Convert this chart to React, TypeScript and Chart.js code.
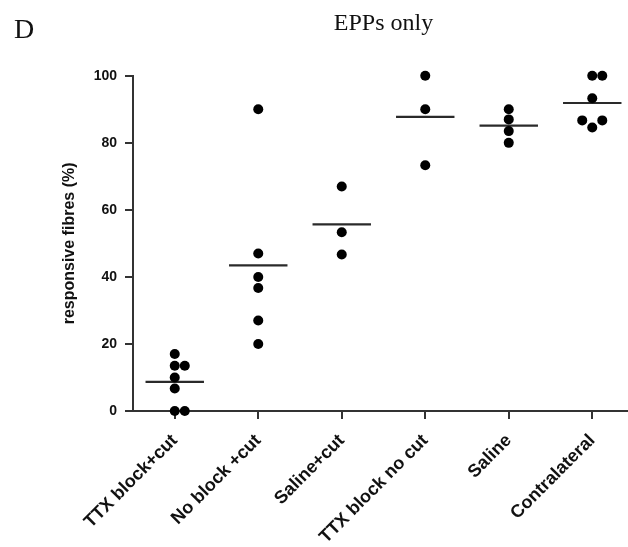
import React, { useEffect, useRef } from "react";
import { Chart, registerables } from "chart.js";

Chart.register(...registerables);

const CATEGORIES = [
  "TTX block+cut",
  "No block +cut",
  "Saline+cut",
  "TTX block no cut",
  "Saline",
  "Contralateral",
];

const TTX_BLOCK_CUT = [17, 13.5, 13.5, 10, 6.7, 0, 0];
const NO_BLOCK_CUT = [90, 47, 40, 36.7, 27, 20];
const SALINE_CUT = [67, 53.3, 46.7];
const TTX_BLOCK_NO_CUT = [100, 90, 73.3];
const SALINE = [90, 87, 83.5, 80];
const CONTRALATERAL = [100, 100, 93.3, 86.7, 86.7, 84.6];

const GROUPS = [TTX_BLOCK_CUT, NO_BLOCK_CUT, SALINE_CUT, TTX_BLOCK_NO_CUT, SALINE, CONTRALATERAL];

const Y_TICKS = [0, 20, 40, 60, 80, 100];
const TITLE = "EPPs only";
const PANEL_LABEL = "D";
const Y_TITLE = "responsive fibres (%)";

const SANS = "'Liberation Sans', Arial, sans-serif";
const SERIF = "'Liberation Serif', 'Times New Roman', serif";

// simple beeswarm: points that would overlap are spread sideways
function swarm(values: number[], index: number) {
  const DX = 0.12; // dot width in category units
  const DY = 3.0; // dot height in value units
  const placed: { x: number; y: number }[] = [];
  const sorted = [...values].sort((a, b) => a - b);
  for (const v of sorted) {
    for (let k = 0; k < 20; k++) {
      const step = k === 0 ? 0 : k % 2 === 1 ? Math.ceil(k / 2) : -Math.ceil(k / 2);
      const x = index + step * DX;
      const hit = placed.some((p) => ((p.x - x) / DX) ** 2 + ((p.y - v) / DY) ** 2 < 0.999);
      if (!hit) {
        placed.push({ x, y: v });
        break;
      }
    }
  }
  return placed;
}

const mean = (a: number[]) => a.reduce((s, v) => s + v, 0) / a.length;

const panelLabelPlugin = {
  id: "panelLabel",
  afterDraw(chart: any) {
    const ctx = chart.ctx;
    ctx.save();
    ctx.font = `28px ${SERIF}`;
    ctx.fillStyle = "#111";
    ctx.textBaseline = "alphabetic";
    ctx.textAlign = "left";
    ctx.fillText(PANEL_LABEL, 14, 38);
    ctx.restore();
  },
};

export default function App() {
  const ref = useRef<HTMLCanvasElement | null>(null);

  useEffect(() => {
    if (!ref.current) return;
    const points = GROUPS.flatMap((g, i) => swarm(g, i));
    const meanSets = GROUPS.map((g, i) => {
      const m = mean(g);
      return {
        type: "line" as const,
        data: [
          { x: i - 0.35, y: m },
          { x: i + 0.35, y: m },
        ],
        borderColor: "#2a2a2a",
        borderWidth: 2.2,
        pointRadius: 0,
        showLine: true,
        fill: false,
        clip: false,
      };
    });

    const chart = new Chart(ref.current, {
      type: "scatter",
      data: {
        datasets: [
          {
            type: "scatter",
            data: points,
            backgroundColor: "#000",
            borderColor: "#000",
            pointRadius: 5,
            borderWidth: 0,
            clip: false,
          } as any,
          ...(meanSets as any[]),
        ],
      },
      options: {
        animation: false,
        responsive: false,
        layout: { padding: { left: 8, right: 6, top: 0, bottom: 0 } },
        plugins: {
          legend: { display: false },
          tooltip: { enabled: false },
          title: {
            display: true,
            text: TITLE,
            fullSize: false,
            color: "#111",
            font: { family: SERIF, size: 24, weight: "normal" },
            padding: { top: 9, bottom: 38 },
          },
        },
        scales: {
          x: {
            type: "linear",
            min: -0.5,
            max: 5.5,
            afterBuildTicks: (s: any) => {
              s.ticks = CATEGORIES.map((_, i) => ({ value: i }));
            },
            afterFit: (s: any) => {
              s.height = 136;
            },
            ticks: {
              autoSkip: false,
              maxRotation: 45,
              minRotation: 45,
              padding: 11,
              color: "#111",
              font: { family: SANS, size: 18, weight: "bold" },
              callback: (v: any) => CATEGORIES[Math.round(Number(v))] ?? "",
            },
            grid: { drawOnChartArea: false, drawTicks: true, tickLength: 8, color: "#333", lineWidth: 2 },
            border: { display: true, color: "#333", width: 2 },
          },
          y: {
            type: "linear",
            min: 0,
            max: 100,
            afterBuildTicks: (s: any) => {
              s.ticks = Y_TICKS.map((v) => ({ value: v }));
            },
            afterFit: (s: any) => {
              s.width = 125;
            },
            ticks: {
              padding: 8,
              color: "#111",
              font: { family: SANS, size: 14, weight: "bold" },
            },
            title: {
              display: true,
              text: Y_TITLE,
              color: "#111",
              font: { family: SANS, size: 16, weight: "bold" },
              padding: { top: 52, bottom: 0 },
            },
            grid: { drawOnChartArea: false, drawTicks: true, tickLength: 8, color: "#333", lineWidth: 2 },
            border: { display: true, color: "#333", width: 2 },
          },
        },
      } as any,
      plugins: [panelLabelPlugin],
    });
    return () => chart.destroy();
  }, []);

  return (
    <div
      style={{
        position: "absolute",
        left: 0,
        top: 0,
        width: 628,
        height: 547,
        overflow: "hidden",
        background: "#fff",
      }}
    >
      <canvas ref={ref} width={640} height={547} style={{ width: 640, height: 547, display: "block" }} />
    </div>
  );
}
